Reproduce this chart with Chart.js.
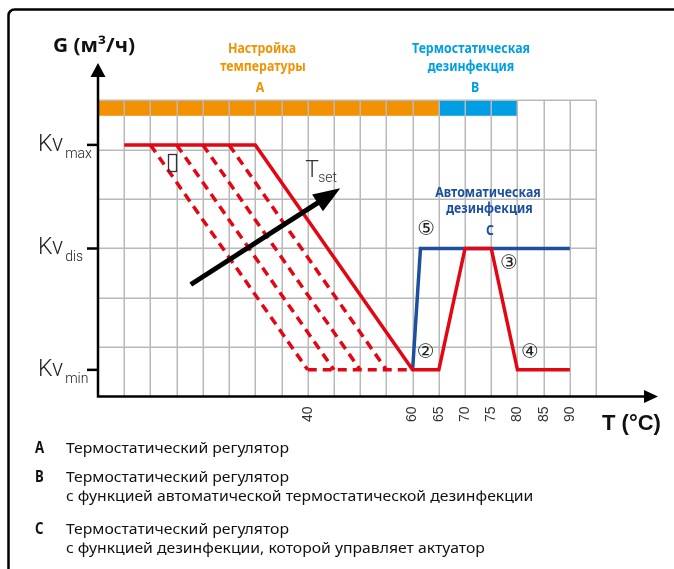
<!DOCTYPE html>
<html lang="ru">
<head>
<meta charset="UTF-8">
<title>G (м³/ч) – T (°C)</title>
<script src="https://cdn.jsdelivr.net/npm/chart.js"></script>
<style>
  html, body { margin: 0; padding: 0; background: #fff; }
  #wrap { width: 674px; height: 569px; }
</style>
</head>
<body>
<div id="wrap"><canvas id="chart" width="674" height="569"></canvas></div>
<script>
// temperatures that get a label under the axis
const tempLabels = [40, 60, 65, 70, 75, 80, 85, 90];

// flow levels on the G axis
const kvNames = ['max', 'dis', 'min'];
const kvValues = [5.1, 3.0, 0.54];

// thermostatic regulator (solid red)
const regT = [5, 30, 60, 65, 70, 75, 80, 90];
const regG = [5.1, 5.1, 0.54, 0.54, 3.0, 3.0, 0.54, 0.54];

// disinfection driven by the actuator (blue)
const actT = [60, 61.5, 90];
const actG = [0.54, 3.0, 3.0];

// lower set temperatures (dashed red)
const dashTopT = [10, 15, 20, 25];
const dashBottomT = [40, 45, 50, 55];
const dashFloorT = [40, 60];

// Tset arrow
const arrowT = [17.7, 46.2];
const arrowG = [2.27, 4.22];

// coloured band over the grid
const bandFrom = [0, 65];
const bandTo = [65, 80];

// circled step numbers
const stepNames = ['②', '③', '④', '⑤'];
const stepT = [62.5, 78.4, 82.4, 62.6];
const stepG = [0.89, 2.7, 0.88, 3.37];

// legend under the chart
const legendKeys = ['A', 'B', 'C'];
const legendLines = [
  ['Термостатический регулятор'],
  ['Термостатический регулятор', 'с функцией автоматической термостатической дезинфекции'],
  ['Термостатический регулятор', 'с функцией дезинфекции, которой управляет актуатор']
];

const RED = '#e30613', ORANGE = '#f39200', CYAN = '#009fe3', NAVY = '#1d4f9f';
const kvMax = kvValues[0], kvMin = kvValues[2];

function pts(ts, gs) {
  return ts.map((t, i) => ({x: t, y: gs[i]}));
}

// draws text squeezed horizontally by sx
function squeeze(ctx, text, x, y, sx, align) {
  ctx.save();
  ctx.translate(x, y);
  ctx.scale(sx, 1);
  ctx.textAlign = align || 'center';
  ctx.fillText(text, 0, 0);
  ctx.restore();
}

const lineStyle = {pointRadius: 0, fill: false, tension: 0, borderWidth: 3.5, borderJoinStyle: 'miter'};

const datasets = [
  Object.assign({label: 'A', data: pts(regT, regG), borderColor: RED}, lineStyle)
];
dashTopT.forEach((t, i) => {
  datasets.push(Object.assign({
    label: 'Tset ' + t,
    data: [{x: t, y: kvMax}, {x: dashBottomT[i], y: kvMin}],
    borderColor: RED, borderDash: [9, 6]
  }, lineStyle));
});
datasets.push(Object.assign({
  label: 'min', data: dashFloorT.map(t => ({x: t, y: kvMin})),
  borderColor: RED, borderDash: [9, 6]
}, lineStyle));
datasets.push(Object.assign({label: 'C', data: pts(actT, actG), borderColor: NAVY}, lineStyle));

const backdrop = {
  id: 'backdrop',
  beforeDatasetsDraw(chart) {
    const {ctx, scales: {x, y}} = chart;
    ctx.save();
    bandFrom.forEach((t0, i) => {
      ctx.fillStyle = i === 0 ? ORANGE : CYAN;
      const x0 = x.getPixelForValue(t0), x1 = x.getPixelForValue(bandTo[i]);
      const y0 = y.getPixelForValue(6), y1 = y.getPixelForValue(5.69);
      ctx.fillRect(x0, y0, x1 - x0, y1 - y0);
    });
    ctx.strokeStyle = '#b9b9b9';
    ctx.lineWidth = 1.5;
    ctx.beginPath();
    for (let t = 5; t <= 95; t += 5) {
      const px = Math.round(x.getPixelForValue(t)) + 0.25;
      ctx.moveTo(px, y.getPixelForValue(0));
      ctx.lineTo(px, y.getPixelForValue(6));
    }
    for (let g = 1; g <= 6; g++) {
      const py = Math.round(y.getPixelForValue(g)) + 0.25;
      ctx.moveTo(x.getPixelForValue(0), py);
      ctx.lineTo(x.getPixelForValue(95), py);
    }
    ctx.stroke();
    ctx.restore();
  },
  afterDatasetsDraw(chart) {
    const {ctx, chartArea, scales: {x, y}} = chart;
    const x0 = x.getPixelForValue(0), y0 = y.getPixelForValue(0);
    ctx.save();

    // Tset arrow
    const ax0 = x.getPixelForValue(arrowT[0]), ay0 = y.getPixelForValue(arrowG[0]);
    const ax1 = x.getPixelForValue(arrowT[1]), ay1 = y.getPixelForValue(arrowG[1]);
    const ang = Math.atan2(ay1 - ay0, ax1 - ax0);
    const hl = 27, hw = 10;
    const bx = ax1 - hl * Math.cos(ang), by = ay1 - hl * Math.sin(ang);
    ctx.strokeStyle = '#000';
    ctx.fillStyle = '#000';
    ctx.lineWidth = 5;
    ctx.beginPath();
    ctx.moveTo(ax0, ay0);
    ctx.lineTo(bx + 2 * Math.cos(ang), by + 2 * Math.sin(ang));
    ctx.stroke();
    ctx.beginPath();
    ctx.moveTo(ax1, ay1);
    ctx.lineTo(bx + hw * Math.sin(ang), by - hw * Math.cos(ang));
    ctx.lineTo(bx - hw * Math.sin(ang), by + hw * Math.cos(ang));
    ctx.closePath();
    ctx.fill();

    // axes with arrow heads
    ctx.lineWidth = 2.5;
    ctx.beginPath();
    ctx.moveTo(x0, y0 + 1);
    ctx.lineTo(x0, chartArea.top + 10);
    ctx.moveTo(x0 - 1, y0);
    ctx.lineTo(chartArea.right - 10, y0);
    ctx.stroke();
    ctx.beginPath();
    ctx.moveTo(x0, chartArea.top);
    ctx.lineTo(x0 + 7.5, chartArea.top + 14);
    ctx.lineTo(x0 - 7.5, chartArea.top + 14);
    ctx.closePath();
    ctx.moveTo(chartArea.right, y0);
    ctx.lineTo(chartArea.right - 14, y0 - 6.5);
    ctx.lineTo(chartArea.right - 14, y0 + 6.5);
    ctx.closePath();
    ctx.fill();

    // Kv ticks and labels
    ctx.textAlign = 'left';
    ctx.textBaseline = 'alphabetic';
    kvValues.forEach((v, i) => {
      const py = y.getPixelForValue(v);
      ctx.strokeStyle = '#000';
      ctx.lineWidth = 2.5;
      ctx.beginPath();
      ctx.moveTo(x0 - 11, py);
      ctx.lineTo(x0, py);
      ctx.stroke();
      ctx.fillStyle = '#222';
      ctx.font = '300 23px Roboto, "Liberation Sans", sans-serif';
      ctx.fillText('Kv', 38, py + 6);
      const w = ctx.measureText('Kv').width;
      ctx.font = '300 14px Roboto, "Liberation Sans", sans-serif';
      ctx.fillText(kvNames[i], 38 + w + 2, py + 13);
    });

    // Tset label
    ctx.fillStyle = '#333';
    ctx.font = '300 23px Roboto, "Liberation Sans", sans-serif';
    ctx.fillText('T', ax1 - 35, ay1 - 11);
    ctx.font = '300 14px Roboto, "Liberation Sans", sans-serif';
    ctx.fillText('set', ax1 - 22, ay1 - 6);

    // missing glyph box
    ctx.strokeStyle = '#333';
    ctx.lineWidth = 1.3;
    ctx.strokeRect(Math.round(x.getPixelForValue(14.2)) - 3.5, Math.round(y.getPixelForValue(4.74)) - 8.5, 8, 17);

    // step numbers
    ctx.fillStyle = '#222';
    ctx.font = '20px "DejaVu Sans", sans-serif';
    ctx.textAlign = 'center';
    ctx.textBaseline = 'middle';
    stepNames.forEach((s, i) => {
      ctx.fillText(s, x.getPixelForValue(stepT[i]), y.getPixelForValue(stepG[i]));
    });

    // headings
    ctx.textBaseline = 'alphabetic';
    ctx.font = 'bold 15px "Noto Sans", sans-serif';
    const hsx = 118 / ctx.measureText('Термостатическая').width;
    ctx.fillStyle = ORANGE;
    squeeze(ctx, 'Настройка', 262, 53, hsx);
    squeeze(ctx, 'температуры', 263, 71, hsx);
    squeeze(ctx, 'A', 260, 91.5, hsx);
    ctx.fillStyle = CYAN;
    squeeze(ctx, 'Термостатическая', 471, 53, hsx);
    squeeze(ctx, 'дезинфекция', 471, 71, hsx);
    squeeze(ctx, 'B', 475, 91.5, hsx);
    ctx.fillStyle = NAVY;
    squeeze(ctx, 'Автоматическая', 488, 196.5, hsx);
    squeeze(ctx, 'дезинфекция', 489.5, 212.5, hsx);
    squeeze(ctx, 'C', 490, 235, hsx);

    // axis titles
    ctx.fillStyle = '#111';
    ctx.font = 'bold 19px "Noto Sans", sans-serif';
    squeeze(ctx, 'G (м³/ч)', 94, 51.5, 82 / ctx.measureText('G (м³/ч)').width);
    ctx.font = 'bold 22px "Liberation Sans", sans-serif';
    ctx.textAlign = 'left';
    ctx.fillText('T (°C)', 602, 430);

    // legend
    const rows = [[453], [482, 501], [534, 553]];
    ctx.font = '15px "Noto Sans", sans-serif';
    const lsx = 223 / ctx.measureText(legendLines[0][0]).width;
    legendKeys.forEach((k, i) => {
      ctx.fillStyle = '#111';
      ctx.font = 'bold 16px "Noto Sans", sans-serif';
      squeeze(ctx, k, 35, rows[i][0], hsx, 'left');
      ctx.fillStyle = '#111';
      ctx.font = '15px "Noto Sans", sans-serif';
      legendLines[i].forEach((line, j) => squeeze(ctx, line, 66, rows[i][j], lsx, 'left'));
    });

    // frame
    ctx.strokeStyle = '#000';
    ctx.lineWidth = 2.5;
    ctx.beginPath();
    ctx.moveTo(8.5, 569);
    ctx.lineTo(8.5, 16);
    ctx.arcTo(8.5, 9.5, 15, 9.5, 6);
    ctx.lineTo(674, 9.5);
    ctx.stroke();

    ctx.restore();
  }
};

new Chart(document.getElementById('chart'), {
  type: 'line',
  data: {datasets: datasets},
  options: {
    responsive: false,
    animation: false,
    devicePixelRatio: 1,
    layout: {padding: {left: 98, top: 63, right: 16, bottom: 0}},
    plugins: {legend: {display: false}, tooltip: {enabled: false}},
    scales: {
      x: {
        type: 'linear',
        min: 0,
        max: 106.8,
        grid: {display: false},
        border: {display: false},
        afterFit: s => {
          s.height = 569 - 396.5;
          s.paddingLeft = 0;
          s.paddingRight = 0;
        },
        ticks: {
          stepSize: 5,
          autoSkip: false,
          minRotation: 90,
          maxRotation: 90,
          padding: 2,
          color: '#333',
          font: {family: '"Liberation Sans", sans-serif', size: 14},
          callback: v => tempLabels.includes(v) ? String(v) : ''
        }
      },
      y: {type: 'linear', display: false, min: 0, max: 6.76}
    }
  },
  plugins: [backdrop]
});
</script>
</body>
</html>
